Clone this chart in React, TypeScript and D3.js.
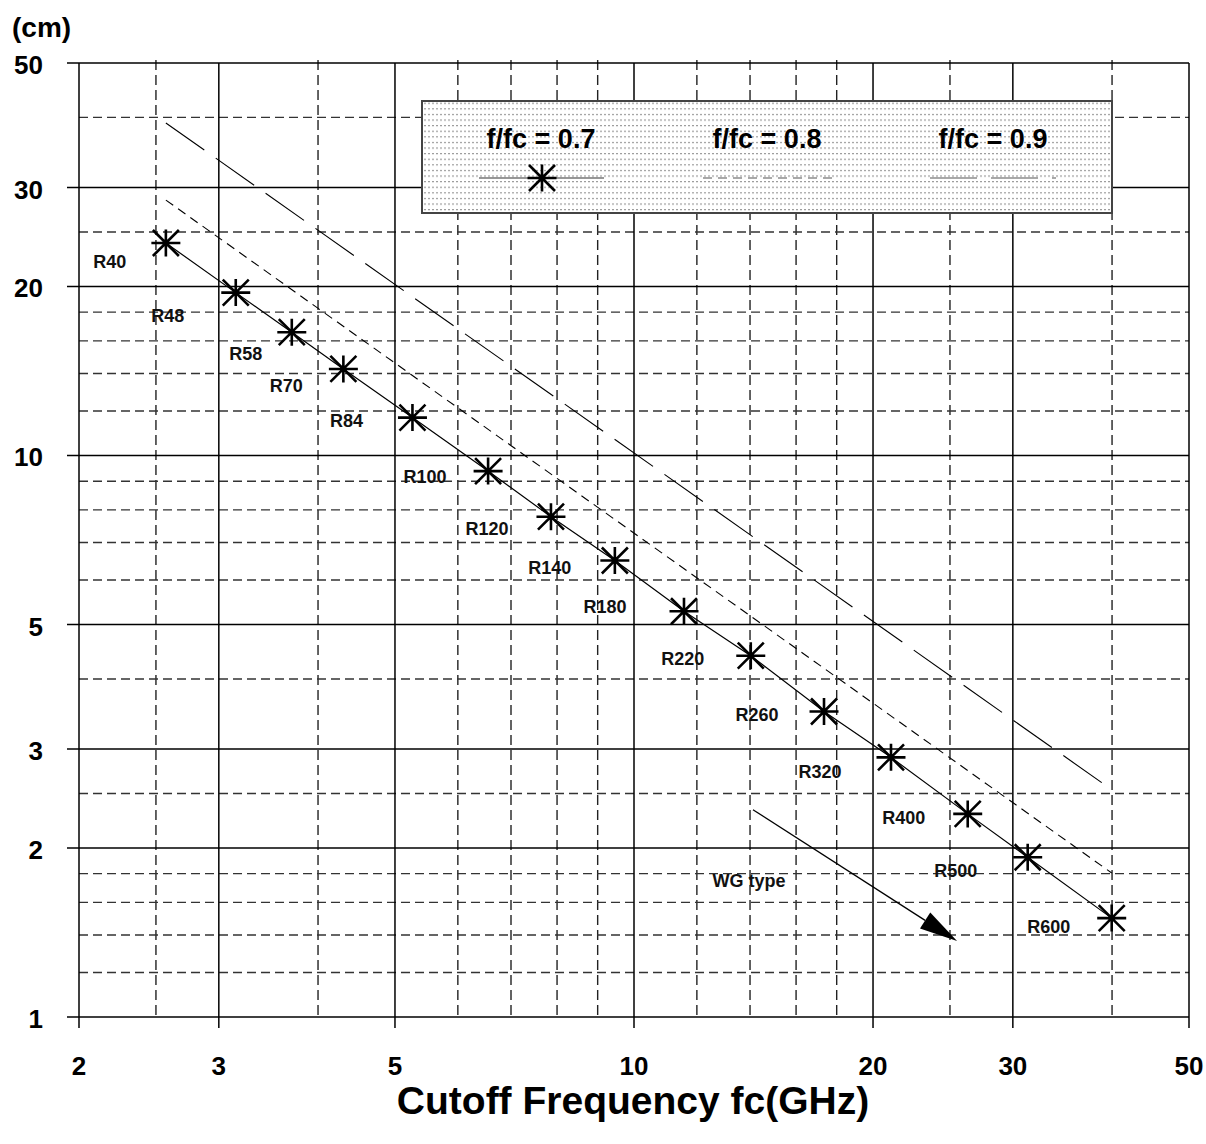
import React from "react";
import * as d3 from "d3";

// ---- data ----
const waveguides = ["R40","R48","R58","R70","R84","R100","R120","R140","R180","R220","R260","R320","R400","R500","R600"];
const cutoffGHz = [2.573,3.151,3.707,4.305,5.26,6.55,7.86,9.46,11.56,14.03,17.35,21.07,26.32,31.32,39.96];
const length07 = [23.9,19.5,16.58,14.26,11.68,9.38,7.78,6.5,5.28,4.4,3.5,2.9,2.3,1.925,1.5];
// f/fc = 0.8 and 0.9 straight lines: end points
const line08X = [2.573, 39.96];
const line08Y = [28.5, 1.805];
const line09X = [2.573, 39.96];
const line09Y = [39.1, 2.54];
const arrowX = [14.12, 25.52];
const arrowY = [2.34, 1.366];

const xMajor = [2,3,5,10,20,30,50];
const xMinor = [2.5,4,6,7,8,9,12,14,16,18,25,40];
const yMajor = [1,2,3,5,10,20,30,50];
const yMinor = [1.2,1.4,1.6,1.8,2.5,4,6,7,8,9,12,14,16,18,25,40];
const legendLabels = ["f/fc = 0.7","f/fc = 0.8","f/fc = 0.9"];

// label placement (pixel offsets from each marker)
const labelOffsets: [number,number][] = [
  [-56,25],[-68,29],[-46,28],[-57,23],[-66,9],[-63,12],[-64,18],[-65,13],
  [-79,2],[-68,9],[-67,10],[-71,21],[-64,10],[-72,20],[-63,15]
];

const W = 1206, H = 1144;
const L = 79, R = 1189, T = 63, B = 1017;
const FONT = "'Liberation Sans', Arial, Helvetica, sans-serif";

function Star({ cx, cy }: { cx: number; cy: number }) {
  const h = 14.5, v = 13.5, d = 13;
  const p = `M${cx-h},${cy}L${cx+h},${cy}M${cx},${cy-v}L${cx},${cy+v}M${cx-d},${cy-d}L${cx+d},${cy+d}M${cx-d},${cy+d}L${cx+d},${cy-d}`;
  return <path d={p} stroke="#000" strokeWidth={2.6} fill="none" />;
}

export default function App() {
  const x = d3.scaleLog().domain([2, 50]).range([L, R]);
  const y = d3.scaleLog().domain([1, 50]).range([B, T]);
  const line = d3.line<[number, number]>().x(d => x(d[0])).y(d => y(d[1]));
  const pts07: [number, number][] = cutoffGHz.map((c, i) => [c, length07[i]]);
  const pts08: [number, number][] = line08X.map((c, i) => [c, line08Y[i]]);
  const pts09: [number, number][] = line09X.map((c, i) => [c, line09Y[i]]);

  // arrow geometry
  const ax0 = x(arrowX[0]), ay0 = y(arrowY[0]), ax1 = x(arrowX[1]), ay1 = y(arrowY[1]);
  const ang = Math.atan2(ay1 - ay0, ax1 - ax0);
  const hl = 38, hw = 9.5;
  const bx = ax1 - hl * Math.cos(ang), by = ay1 - hl * Math.sin(ang);
  const nx = -Math.sin(ang), ny = Math.cos(ang);
  const head = `M${ax1},${ay1}L${bx + nx * hw},${by + ny * hw}L${bx - nx * hw},${by - ny * hw}Z`;

  // legend layout
  const lgX = 422, lgY = 101, lgW = 690, lgH = 112;
  const lgCenters = [541, 767, 993];

  return (
    <svg width={W} height={H} style={{ position: "absolute", left: 0, top: 0, background: "#fff" }} fontFamily={FONT}>
      <defs>
        <pattern id="dots" width={4} height={5.6} patternUnits="userSpaceOnUse">
          <rect x={0} y={0} width={4} height={5.6} fill="#fff" />
          <rect x={0} y={2} width={2} height={1} fill="#8a8a8a" />
        </pattern>
      </defs>
      <rect x={0} y={0} width={W} height={H} fill="#fff" />

      {/* minor dashed grid */}
      {xMinor.map(v => (
        <line key={"xm" + v} x1={x(v)} x2={x(v)} y1={T - 3} y2={B} stroke="#222" strokeWidth={1.4} strokeDasharray="10,5" />
      ))}
      {yMinor.map(v => (
        <line key={"ym" + v} x1={L} x2={R} y1={y(v)} y2={y(v)} stroke="#333" strokeWidth={1.4} strokeDasharray="9,5" />
      ))}
      {/* major solid grid */}
      {xMajor.map(v => (
        <line key={"xM" + v} x1={x(v)} x2={x(v)} y1={T} y2={B + 11} stroke="#000" strokeWidth={1.5} />
      ))}
      {yMajor.map(v => (
        <line key={"yM" + v} x1={L - 12} x2={R} y1={y(v)} y2={y(v)} stroke="#000" strokeWidth={1.5} />
      ))}

      {/* f/fc = 0.9 and 0.8 */}
      <path d={line(pts09) || ""} stroke="#000" strokeWidth={1.1} fill="none" strokeDasharray="47,14" />
      <path d={line(pts08) || ""} stroke="#000" strokeWidth={1.1} fill="none" strokeDasharray="9,6" />
      {/* f/fc = 0.7 */}
      <path d={line(pts07) || ""} stroke="#000" strokeWidth={1.2} fill="none" />
      {pts07.map((p, i) => (
        <Star key={"s" + i} cx={x(p[0])} cy={y(p[1])} />
      ))}
      {pts07.map((p, i) => (
        <text key={"l" + i} x={x(p[0]) + labelOffsets[i][0]} y={y(p[1]) + labelOffsets[i][1]}
          textAnchor="middle" fontSize={18} fontWeight="bold" fill="#111">{waveguides[i]}</text>
      ))}

      {/* WG type arrow */}
      <line x1={ax0} y1={ay0} x2={bx} y2={by} stroke="#000" strokeWidth={1.3} />
      <path d={head} fill="#000" />
      <text x={749} y={887} textAnchor="middle" fontSize={18} fontWeight="bold" fill="#111">WG type</text>

      {/* legend */}
      <rect x={lgX} y={lgY} width={lgW} height={lgH} fill="url(#dots)" stroke="#444" strokeWidth={2} />
      {legendLabels.map((t, i) => (
        <text key={"lg" + i} x={lgCenters[i]} y={148} textAnchor="middle" fontSize={27} fontWeight="bold" fill="#000">{t}</text>
      ))}
      <line x1={479} x2={604} y1={178} y2={178} stroke="#333" strokeWidth={1.2} />
      <Star cx={542} cy={178} />
      <line x1={703} x2={832} y1={178} y2={178} stroke="#555" strokeWidth={1.2} strokeDasharray="9,6" />
      <line x1={930} x2={1056} y1={178} y2={178} stroke="#555" strokeWidth={1.2} strokeDasharray="47,14" />

      {/* axis labels */}
      {yMajor.map(v => (
        <text key={"yl" + v} x={43} y={y(v) + 11} textAnchor="end" fontSize={26} fontWeight="bold" fill="#000">{v}</text>
      ))}
      {xMajor.map(v => (
        <text key={"xl" + v} x={x(v)} y={1075} textAnchor="middle" fontSize={26} fontWeight="bold" fill="#000">{v}</text>
      ))}
      <text x={12} y={37} fontSize={28} fontWeight="bold" fill="#000">(cm)</text>
      <text x={633} y={1114} textAnchor="middle" fontSize={39} fontWeight="bold" fill="#000">Cutoff Frequency fc(GHz)</text>
    </svg>
  );
}
